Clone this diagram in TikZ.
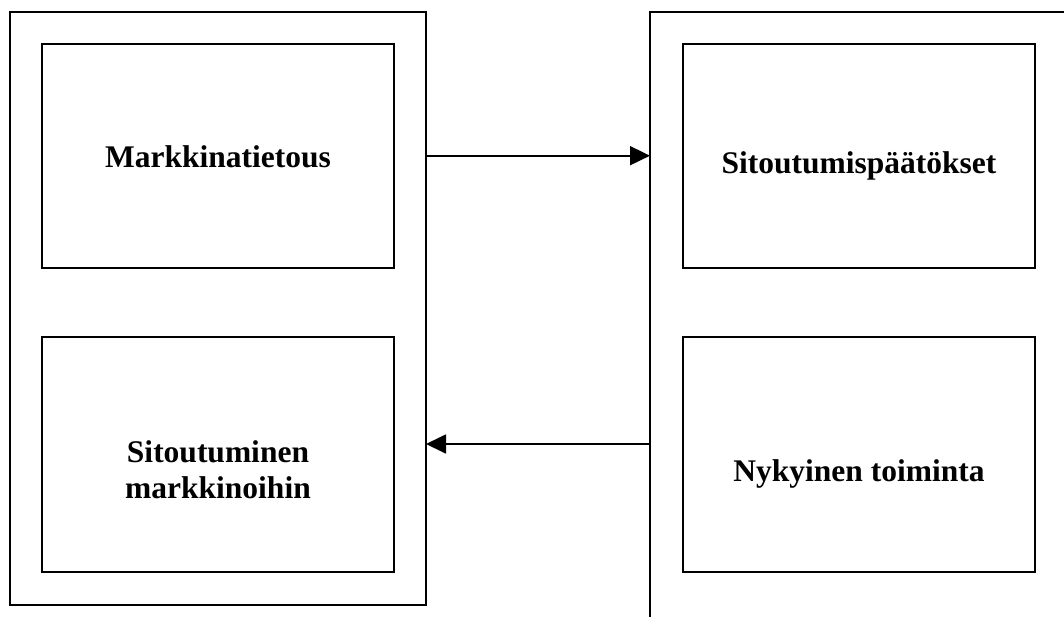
\documentclass[tikz,border=0pt]{standalone}
\usepackage{fontspec}
\setmainfont{Liberation Serif}
\usetikzlibrary{arrows.meta}
\begin{document}
\begin{tikzpicture}[x=1pt,y=-1pt,
  box/.style={draw=black,line width=2pt,inner sep=0pt,outer sep=0pt},
  lbl/.style={inner sep=0pt,outer sep=0pt,font=\bfseries\fontsize{31.5}{36}\selectfont},
  arr/.style={line width=1.8pt,-{Triangle[length=20pt,width=19pt]}}]
\useasboundingbox (0,0) rectangle (1064,616);
\clip (0,0) rectangle (1064,616);
% outer containers
\node[box,minimum width=416.5pt,minimum height=593.5pt] (L) at (217.75,308.25) {};
\node[inner sep=0pt,outer sep=0pt,minimum width=450pt,minimum height=640pt] (R) at (875,331.5) {};
\draw[line width=2pt] (R.north east) -- (R.north west) -- (R.south west);
% inner boxes
\node[box,minimum width=352pt,minimum height=224pt] (TL) at (218,156) {};
\node[box,minimum width=352pt,minimum height=235pt] (BL) at (218,454.5) {};
\node[box,minimum width=352pt,minimum height=224pt] (TR) at (859,156) {};
\node[box,minimum width=352pt,minimum height=235pt] (BR) at (859,454.5) {};
% labels
\node[lbl,anchor=base] (tTL) at (218,167) {Markkinatietous};
\node[lbl,align=center] (tBL) at (218,470) {Sitoutuminen\\markkinoihin};
\node[lbl,anchor=base] (tTR) at (859,173) {Sitoutumispäätökset};
\node[lbl,anchor=base] (tBR) at (859,481) {Nykyinen toiminta};
% arrows
\coordinate (a1) at (0,155.7);
\coordinate (a2) at (0,444);
\draw[arr] (L.east |- a1) -- (R.west |- a1);
\draw[arr] (R.west |- a2) -- (L.east |- a2);
\end{tikzpicture}
\end{document}
